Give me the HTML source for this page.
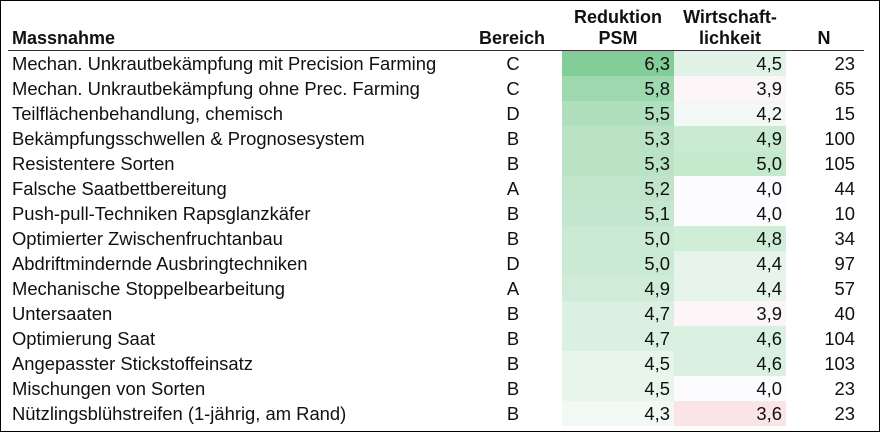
<!DOCTYPE html>
<html><head><meta charset="utf-8"><style>
body{margin:0;width:880px;height:432px;background:#fff;font-family:"Liberation Sans",Arial,sans-serif;font-size:18.4px;color:#111;overflow:hidden}
.frame{position:absolute;left:0;top:0;width:878px;height:430px;border:1px solid #000}
.h{position:absolute;font-weight:bold;line-height:21px;font-size:18px}
.line{position:absolute;left:8px;top:50px;width:856px;height:1px;background:#333}
.row{position:absolute;left:0;height:25px;width:880px;line-height:25px}
.row div{position:absolute;top:0;height:25px}
</style></head><body>
<div class="frame"></div>
<div class="h" style="left:12px;top:28px">Massnahme</div>
<div class="h" style="left:479px;top:28px">Bereich</div>
<div class="h" style="left:562px;width:112px;top:7px;text-align:center">Reduktion<br>PSM</div>
<div class="h" style="left:674px;width:112px;top:7px;text-align:center">Wirtschaft-<br>lichkeit</div>
<div class="h" style="left:814px;width:20px;top:28px;text-align:center">N</div>
<div class="line"></div>
<div id="rows"></div>
<script>
var d=[["Mechan. Unkrautbekämpfung mit Precision Farming","C","6,3","4,5","23"],
["Mechan. Unkrautbekämpfung ohne Prec. Farming","C","5,8","3,9","65"],
["Teilflächenbehandlung, chemisch","D","5,5","4,2","15"],
["Bekämpfungsschwellen & Prognosesystem","B","5,3","4,9","100"],
["Resistentere Sorten","B","5,3","5,0","105"],
["Falsche Saatbettbereitung","A","5,2","4,0","44"],
["Push-pull-Techniken Rapsglanzkäfer","B","5,1","4,0","10"],
["Optimierter Zwischenfruchtanbau","B","5,0","4,8","34"],
["Abdriftmindernde Ausbringtechniken","D","5,0","4,4","97"],
["Mechanische Stoppelbearbeitung","A","4,9","4,4","57"],
["Untersaaten","B","4,7","3,9","40"],
["Optimierung Saat","B","4,7","4,6","104"],
["Angepasster Stickstoffeinsatz","B","4,5","4,6","103"],
["Mischungen von Sorten","B","4,5","4,0","23"],
["Nützlingsblühstreifen (1-jährig, am Rand)","B","4,3","3,6","23"]];
function mix(a,b,t){return "rgb("+a.map((x,i)=>Math.round(x+(b[i]-x)*t)).join(",")+")";}
var h="";
d.forEach(function(r,i){
 var p=parseFloat(r[2].replace(",",".")),w=parseFloat(r[3].replace(",","."));
 var c1=mix([242,249,244],[130,205,152],(p-4.3)/2);
 var c2=w>=4?mix([252,252,255],[196,233,205],(w-4)):mix([252,252,255],[251,228,231],(4-w)/0.4);
 h+='<div class="row" style="top:'+(51+i*25)+'px">'+
 '<div style="left:12px">'+r[0]+'</div>'+
 '<div style="left:503px;width:20px;text-align:center">'+r[1]+'</div>'+
 '<div style="left:562px;width:112px;background:'+c1+'"><span style="position:absolute;right:4px">'+r[2]+'</span></div>'+
 '<div style="left:674px;width:112px;background:'+c2+'"><span style="position:absolute;right:4px">'+r[3]+'</span></div>'+
 '<div style="left:800px;width:55px;text-align:right">'+r[4]+'</div></div>';
});
document.getElementById("rows").innerHTML=h;
</script>
</body></html>
